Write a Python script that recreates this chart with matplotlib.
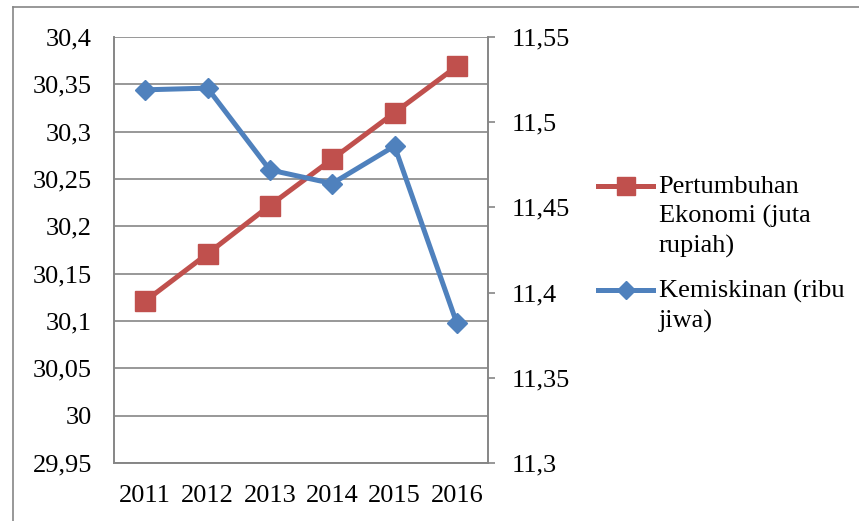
import matplotlib.pyplot as plt
from matplotlib.legend_handler import HandlerLine2D
from matplotlib.lines import Line2D
from matplotlib.ticker import FixedLocator, FuncFormatter

plt.rcParams["font.family"] = ["Liberation Serif", "DejaVu Serif"]

years = ["2011", "2012", "2013", "2014", "2015", "2016"]
pertumbuhan = [30.121, 30.171, 30.222, 30.271, 30.320, 30.369]
kemiskinan = [11.519, 11.520, 11.472, 11.464, 11.486, 11.382]

left_ticks = [29.95, 30.0, 30.05, 30.1, 30.15, 30.2, 30.25, 30.3, 30.35, 30.4]
right_ticks = [11.3, 11.35, 11.4, 11.45, 11.5, 11.55]

red = "#C0504D"
blue = "#4F81BD"
gray = "#868686"


def comma_fmt(v, pos):
    return f"{round(v, 3):g}".replace(".", ",")


# legend handler that puts the sample line next to the first text line
class FirstLineHandler(HandlerLine2D):
    def __init__(self, shift, **kw):
        super().__init__(**kw)
        self.shift = shift

    def create_artists(self, legend, orig_handle, xdescent, ydescent,
                       width, height, fontsize, trans):
        arts = super().create_artists(legend, orig_handle, xdescent, ydescent,
                                      width, height, fontsize, trans)
        for a in arts:
            a.set_ydata([y + self.shift for y in a.get_ydata()])
        return arts


fig = plt.figure(figsize=(8.59, 5.21), dpi=100)
ax1 = fig.add_axes([114 / 859, 58 / 521, 374 / 859, 426 / 521])
ax2 = ax1.twinx()

x = list(range(len(years)))
l1, = ax1.plot(x, pertumbuhan, color=red, lw=3.6, marker="s", ms=14,
               label="Pertumbuhan\nEkonomi (juta\nrupiah)")
l2, = ax2.plot(x, kemiskinan, color=blue, lw=3.6, marker="D", ms=10,
               label="Kemiskinan (ribu\njiwa)")

ax1.set_xlim(-0.5, 5.5)
ax1.set_xticks(x)
ax1.set_xticklabels(years)
ax1.set_ylim(29.95, 30.4)
ax1.yaxis.set_major_locator(FixedLocator(left_ticks))
ax1.yaxis.set_major_formatter(FuncFormatter(comma_fmt))
ax2.set_ylim(11.3, 11.55)
ax2.yaxis.set_major_locator(FixedLocator(right_ticks))
ax2.yaxis.set_major_formatter(FuncFormatter(comma_fmt))

ax1.grid(axis="y", color=gray, lw=1.2)
ax1.set_axisbelow(True)
ax1.tick_params(axis="y", length=0, pad=16, labelsize=19)
ax1.tick_params(axis="x", length=0, pad=16, labelsize=19)
ax2.tick_params(axis="y", length=5, width=1.2, color=gray, pad=12, labelsize=19,
                direction="out")

for ax in (ax1, ax2):
    for side in ("top", "right", "left", "bottom"):
        ax.spines[side].set_color(gray)
        ax.spines[side].set_linewidth(1.2)
ax1.spines["top"].set_visible(False)
ax2.spines["top"].set_visible(False)

# outer chart border (top and left edges visible)
fig.add_artist(Line2D([13 / 859, 1.0], [1 - 7 / 521, 1 - 7 / 521], color=gray, lw=1.2))
fig.add_artist(Line2D([13 / 859, 13 / 859], [0.0, 1 - 7 / 521], color=gray, lw=1.2))

leg = fig.legend(handles=[l1, l2], loc="upper left",
                 bbox_to_anchor=(598 / 859, 1 - 176 / 521),
                 frameon=False, fontsize=19, handlelength=2.1, handletextpad=0.2,
                 borderpad=0, borderaxespad=0, labelspacing=0.8, markerscale=0.9,
                 handler_map={l1: FirstLineHandler(22), l2: FirstLineHandler(11)})
for t in leg.get_texts():
    t.set_linespacing(1.4)

fig.savefig("out.png", dpi=100)
